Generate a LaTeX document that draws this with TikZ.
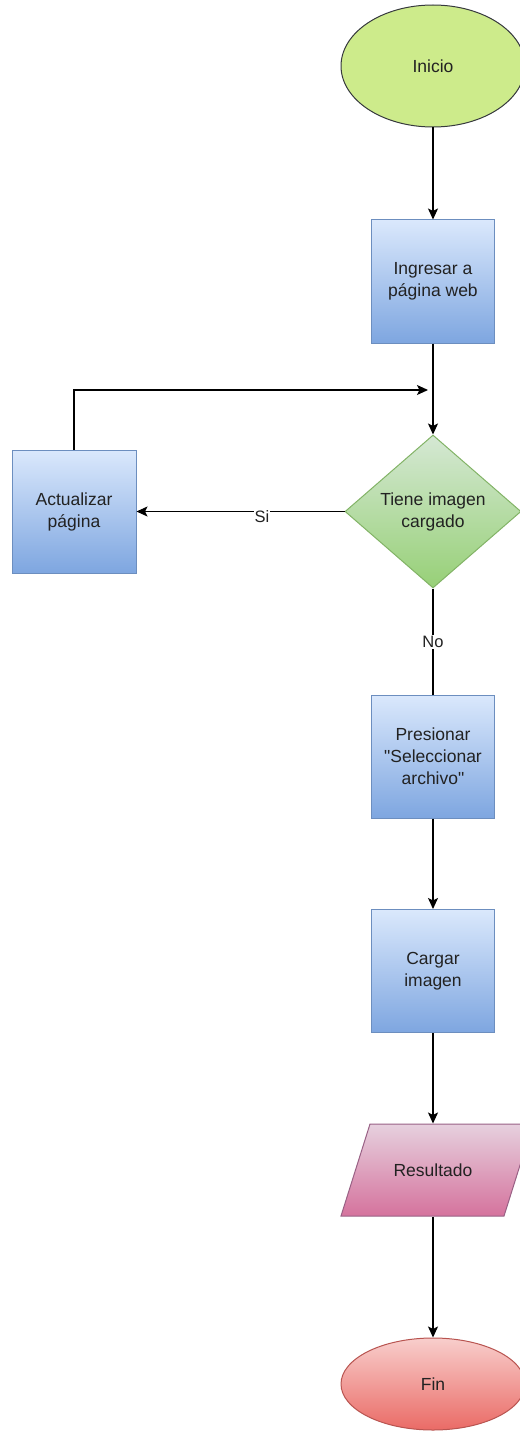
\documentclass[tikz,border=0pt]{standalone}
\usepackage{fontspec}
\setmainfont{Liberation Sans}[Ligatures=TeXOff]
\usetikzlibrary{shapes.geometric,arrows.meta}
\definecolor{txt}{HTML}{222222}
\definecolor{inifill}{HTML}{CDEB8B}
\definecolor{inidraw}{HTML}{36393D}
\definecolor{bluetop}{HTML}{DAE8FC}
\definecolor{bluebot}{HTML}{7EA6E0}
\definecolor{bluedraw}{HTML}{6C8EBF}
\definecolor{greentop}{HTML}{D5E8D4}
\definecolor{greenbot}{HTML}{97D077}
\definecolor{greendraw}{HTML}{82B366}
\definecolor{pinktop}{HTML}{E6D0DE}
\definecolor{pinkbot}{HTML}{D5739D}
\definecolor{pinkdraw}{HTML}{996185}
\definecolor{redtop}{HTML}{F8CECC}
\definecolor{redbot}{HTML}{EA6B66}
\definecolor{reddraw}{HTML}{B85450}
\tikzset{
  base/.style={font=\fontsize{17.5}{22}\selectfont, text=txt, align=center, inner sep=0pt, line width=1pt},
  procbox/.style={base, rectangle, draw=bluedraw, top color=bluetop, bottom color=bluebot, minimum width=123pt, minimum height=123pt},
  decbox/.style={base, diamond, aspect=1.15, draw=greendraw, top color=greentop, bottom color=greenbot, minimum width=176pt, minimum height=153pt},
  termini/.style={base, ellipse, draw=inidraw, fill=inifill, minimum width=184pt, minimum height=122pt},
  termfin/.style={base, ellipse, draw=reddraw, top color=redtop, bottom color=redbot, minimum width=184pt, minimum height=92pt},
  conn/.style={line width=1.2pt, draw=black, -{Stealth[length=11pt,width=10pt,inset=2.5pt]}},
  plainconn/.style={line width=1.2pt, draw=black},
  lbl/.style={font=\fontsize{16.5}{19}\selectfont, text=txt, fill=white, inner sep=1pt}
}
\begin{document}
\begin{tikzpicture}[x=1pt,y=-1pt]
\useasboundingbox (0,0) rectangle (519,1431);
\node[termini] (ini) at (433,66) {Inicio};
\node[procbox] (ing) at (433,281.5) {Ingresar a\\página web};
\node[decbox] (dec) at (433,511.5) {Tiene imagen\\cargado};
\node[procbox, minimum width=124pt] (act) at (74,511.5) {Actualizar\\página};
\node[procbox] (pres) at (433,756.5) {Presionar\\"Seleccionar\\archivo"};
\node[procbox] (carg) at (433,971) {Cargar\\imagen};
\path[draw=pinkdraw, line width=1pt, top color=pinktop, bottom color=pinkbot]
  (370,1124) -- (533,1124) -- (504,1216) -- (341,1216) -- cycle;
\node[base, minimum width=150pt, minimum height=92pt] (res) at (433,1170) {Resultado};
\node[termfin] (fin) at (433,1384) {Fin};
\coordinate (j) at (433,390);
\draw[conn] (ini.south) -- (ing.north);
\draw[conn] (ing.south) -- (dec.north);
\draw[conn, shorten >=5pt] (act.north) |- (j);
\draw[conn] (dec.west) -- (act.east);
\node[lbl] (si) at (262,517) {Si};
\draw[plainconn] (dec.south) -- (pres.north);
\node[lbl] (no) at (433,642) {No};
\draw[conn] (pres.south) -- (carg.north);
\draw[conn] (carg.south) -- (res.north);
\draw[conn] (res.south) -- (fin.north);
\end{tikzpicture}
\end{document}
